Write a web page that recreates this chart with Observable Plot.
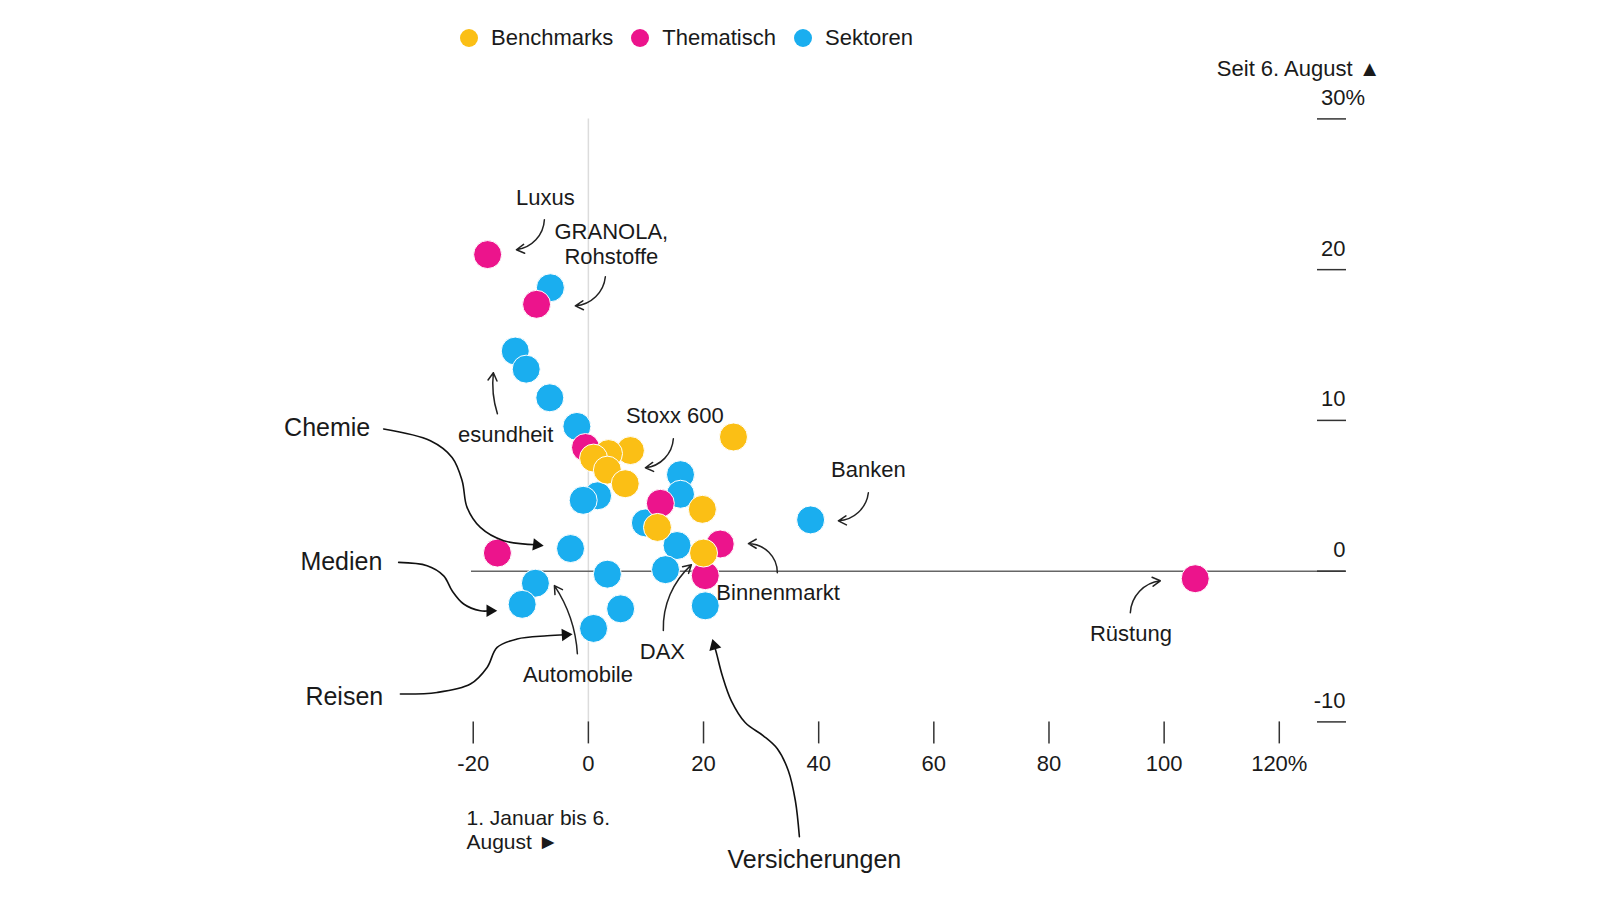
<!DOCTYPE html>
<html><head><meta charset="utf-8">
<script src="https://cdn.jsdelivr.net/npm/d3@7"></script>
<script src="https://cdn.jsdelivr.net/npm/@observablehq/plot@0.6"></script>
<style>
body{margin:0;background:#fff;font-family:"Liberation Sans",Arial,sans-serif;color:#1a1a1a}
#wrap{position:relative;width:1600px;height:900px;overflow:hidden;background:#fff}
#legend{position:absolute;left:460px;top:25px;display:flex;align-items:center;font-size:22px;height:26px}
.item{display:flex;align-items:center;margin-right:18px}
.sw{width:18px;height:18px;border-radius:50%;margin-right:13px}
#chart{position:absolute;left:0;top:50px}
</style></head>
<body><div id="wrap"><div id="legend"></div><div id="chart"></div></div>
<script>
// ---- data ----
const categories = ["Benchmarks", "Thematisch", "Sektoren"];
const colors = ["#fbbf15", "#ec148c", "#1aaeef"];

const benchmarksX = [25.2, 7.3, 3.5, 0.9, 3.3, 6.4, 19.8, 12.0, 20.0];
const benchmarksY = [8.9, 8.0, 7.8, 7.5, 6.7, 5.8, 4.1, 2.9, 1.2];

const thematischX = [-17.5, -9.0, -0.5, 12.5, 22.9, -15.8, 20.3, 105.4];
const thematischY = [21.0, 17.7, 8.2, 4.5, 1.8, 1.2, -0.3, -0.5];

const sektorenX = [-6.6, -12.7, -10.8, -6.7, -2.0, 16.0, 16.0, 1.6, -0.9, 38.6, 9.9, 15.4, 13.4, -3.1, 3.3, -9.2, -11.5, 5.6, 0.9, 20.3];
const sektorenY = [18.8, 14.6, 13.4, 11.5, 9.6, 6.4, 5.1, 5.0, 4.7, 3.4, 3.2, 1.7, 0.1, 1.5, -0.2, -0.8, -2.2, -2.5, -3.8, -2.3];

const xTicks = [-20, 0, 20, 40, 60, 80, 100, 120];
const yTicks = [-10, 0, 10, 20, 30];

// annotation labels (data units)
const labelText   = ["Luxus", "GRANOLA,\nRohstoffe", "esundheit", "Stoxx 600", "Banken", "Binnenmarkt", "DAX", "Rüstung", "Automobile", "Chemie", "Medien", "Reisen", "Versicherungen"];
const labelX      = [-7.47, 3.99, -6.08, 15.02, 48.63, 22.23, 12.85, 94.23, -1.81, -52.85, -50.02, -49.15, 39.25];
const labelY      = [24.77, 21.72, 9.05, 10.31, 6.79, -1.43, -5.34, -4.09, -6.84, 9.48, 0.62, -8.33, -19.14];
const labelAnchor = ["middle", "middle", "end", "middle", "middle", "start", "middle", "middle", "middle", "start", "start", "start", "middle"];
const labelBig    = [false, false, false, false, false, false, false, false, false, true, true, true, true];

// small curved arrows: start -> end, bend (deg)
const arrowX1 = [-7.64, 2.95, -15.80, 14.76, 48.63, 32.82, 13.02, 94.13, -1.91];
const arrowY1 = [23.31, 19.53, 10.44, 8.78, 5.20, -0.11, -3.94, -2.76, -5.48];
const arrowX2 = [-12.50, -2.26, -16.50, 9.90, 43.42, 27.79, 17.89, 99.34, -5.90];
const arrowY2 = [21.32, 17.60, 13.16, 6.86, 3.34, 1.82, 0.42, -0.64, -0.96];
const arrowBend = [40, 40, 12, 40, 40, -45, 25, 40, -15];

// long S-shaped pointers (Chemie, Medien, Reisen, Versicherungen)
const chemieX = [-35.55, -27.44, -23.67, -21.93, -21.07, -18.76, -14.71, -8.99];
const chemieY = [9.43, 8.65, 7.54, 6.00, 4.23, 2.90, 2.02, 1.75];
const medienX = [-32.95, -28.01, -25.13, -23.67, -21.66, -18.76, -17.07];
const medienY = [0.58, 0.36, -0.31, -1.30, -2.18, -2.63, -2.63];
const reisenX = [-32.65, -26.28, -20.49, -17.59, -15.85, -12.38, -7.17, -3.99];
const reisenY = [-8.15, -8.05, -7.49, -6.39, -5.06, -4.50, -4.29, -4.22];
const versX = [36.65, 35.95, 34.73, 32.82, 30.39, 27.27, 24.83, 23.27, 22.23, 21.88];
const versY = [-17.62, -15.23, -13.24, -11.78, -10.92, -10.06, -8.60, -6.94, -5.41, -4.95];

// ---- build tables ----
const points = [];
sektorenX.forEach((x, i) => points.push({cat: "Sektoren", x, y: sektorenY[i]}));
thematischX.forEach((x, i) => points.push({cat: "Thematisch", x, y: thematischY[i]}));
benchmarksX.forEach((x, i) => points.push({cat: "Benchmarks", x, y: benchmarksY[i]}));

const labels = labelText.map((text, i) => ({text, x: labelX[i], y: labelY[i], anchor: labelAnchor[i], big: labelBig[i]}));
const arrows = arrowX1.map((x1, i) => ({x1, y1: arrowY1[i], x2: arrowX2[i], y2: arrowY2[i], bend: arrowBend[i]}));

const W = 1600, H = 850, mL = 471, mR = 255, mT = 68.4, mB = 178.6;
const xDom = [-20.3, 131.5], yDom = [-10, 30];
const kx = (W - mL - mR) / (xDom[1] - xDom[0]);
const ky = (H - mT - mB) / (yDom[1] - yDom[0]);

const pointers = [["Chemie", chemieX, chemieY], ["Medien", medienX, medienY], ["Reisen", reisenX, reisenY], ["Versicherungen", versX, versY]];
const pointerPts = [];
const heads = [];
pointers.forEach(([id, xs, ys]) => {
  xs.forEach((x, i) => pointerPts.push({id, x, y: ys[i]}));
  const n = xs.length;
  const dx = (xs[n - 1] - xs[n - 2]) * kx, dy = -(ys[n - 1] - ys[n - 2]) * ky;
  heads.push({id, x: xs[n - 1], y: ys[n - 1], rot: Math.atan2(dy, dx) * 180 / Math.PI + 90});
});

// ---- legend ----
const legend = document.getElementById("legend");
categories.forEach((c, i) => {
  const it = document.createElement("div"); it.className = "item";
  const sw = document.createElement("div"); sw.className = "sw"; sw.style.background = colors[i];
  const tx = document.createElement("span"); tx.textContent = c;
  it.appendChild(sw); it.appendChild(tx); legend.appendChild(it);
});

// ---- chart ----
const ink = "#1a1a1a";
const chart = Plot.plot({
  width: W, height: H,
  marginLeft: mL, marginRight: mR, marginTop: mT, marginBottom: mB,
  style: {fontFamily: "'Liberation Sans', Arial, sans-serif", fontSize: "22px", color: ink, background: "white", overflow: "visible"},
  x: {domain: xDom},
  y: {domain: yDom},
  color: {domain: categories, range: colors},
  marks: [
    Plot.ruleX([0], {stroke: "#dcdcdc", strokeWidth: 1.5}),
    Plot.ruleY([0], {stroke: "#666", strokeWidth: 1.5}),
    Plot.axisX(xTicks, {anchor: "bottom", tickSize: 22, tickPadding: 11, strokeWidth: 1.5, stroke: "#333", label: null, fontSize: 22,
      tickFormat: d => d === 120 ? "120%" : String(d)}),
    Plot.axisY(yTicks, {anchor: "right", tickSize: -29, tickPadding: 29, strokeWidth: 1.5, stroke: "#333", label: null,
      tickFormat: () => ""}),
    Plot.text(yTicks, {y: d => d, frameAnchor: "right", text: d => String(d), textAnchor: "end", dy: -21, fontSize: 22}),
    Plot.text([30], {y: d => d, frameAnchor: "right", text: () => "%", textAnchor: "start", dy: -21, fontSize: 22}),
    Plot.text(["Seit 6. August ▲"], {frameAnchor: "top-right", textAnchor: "end", dx: 35, dy: -59, fontSize: 22}),
    Plot.text(["1. Januar bis 6.\nAugust ►"], {frameAnchor: "bottom-left", textAnchor: "start", lineAnchor: "middle", lineHeight: 1.15, dx: -5, dy: 107, fontSize: 21}),
    Plot.dot(points, {x: "x", y: "y", fill: "cat", r: 14, stroke: "white", strokeWidth: 1}),
    ...arrows.map(a => Plot.arrow([a], {x1: "x1", y1: "y1", x2: "x2", y2: "y2", bend: a.bend, stroke: "#222", strokeWidth: 1.5, headLength: 9})),
    Plot.line(pointerPts, {x: "x", y: "y", z: "id", curve: "catmull-rom", stroke: "#111", strokeWidth: 1.6}),
    Plot.dot(heads, {x: "x", y: "y", symbol: "triangle", r: 4.6, fill: "#111", stroke: "none", rotate: "rot"}),
    Plot.text(labels, {filter: d => d.anchor === "middle", x: "x", y: "y", text: "text", textAnchor: "middle", lineHeight: 1.1, fontSize: d => d.big ? 25 : 22}),
    Plot.text(labels, {filter: d => d.anchor === "start", x: "x", y: "y", text: "text", textAnchor: "start", fontSize: d => d.big ? 25 : 22}),
    Plot.text(labels, {filter: d => d.anchor === "end", x: "x", y: "y", text: "text", textAnchor: "end", fontSize: d => d.big ? 25 : 22})
  ]
});
document.getElementById("chart").appendChild(chart);
</script>
</body></html>
